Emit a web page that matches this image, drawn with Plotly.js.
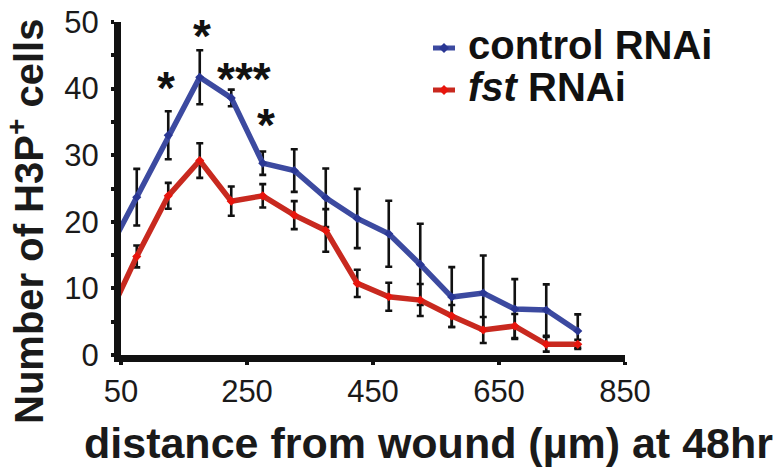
<!DOCTYPE html>
<html>
<head>
<meta charset="utf-8">
<script src="https://cdn.plot.ly/plotly-3.0.1.min.js"></script>
<style>html,body{margin:0;padding:0;background:#fff;}#chart{width:783px;height:468px;}</style>
</head>
<body>
<div id="chart"></div>
<script>
// ---- data ----
const distance    = [25, 75, 125, 175, 225, 275, 325, 375, 425, 475, 525, 575, 625, 675, 725, 775];
const controlMean = [14.7, 23.7, 33.0, 41.7, 38.6, 28.8, 27.7, 23.6, 20.5, 18.2, 13.6, 8.7, 9.3, 6.9, 6.75, 3.6];
const controlErr  = [4.2, 4.25, 3.6, 4.05, 1.25, 1.75, 3.2, 4.4, 4.45, 4.95, 6.1, 4.5, 5.65, 4.5, 3.85, 2.5];
const fstMean     = [4.7, 14.8, 23.9, 29.2, 23.1, 23.9, 21.0, 18.7, 10.75, 8.75, 8.25, 5.85, 3.75, 4.35, 1.6, 1.6];
const fstErr      = [1.5, 1.65, 1.95, 2.6, 2.2, 1.75, 2.1, 3.2, 2.05, 2.1, 2.4, 1.65, 1.95, 1.8, 1.1, 0.7];
const xTickVals   = [50, 250, 450, 650, 850];
const yTickVals   = [0, 10, 20, 30, 40, 50];
const sigX        = [122, 179, 246, 280];
const sigY        = [40.1, 47.9, 41.5, 34.6];
const sigText     = ['*', '*', '***', '*'];
const seriesNames = ['control RNAi', '<i>fst</i> RNAi'];
const xTitle = 'distance from wound (µm) at 48hr';
const yTitle = 'Number of H3P<sup>+</sup> cells';

const FONT = 'Liberation Sans, Arial, sans-serif';
const BLUE = '#3c4aa0', BLUE_M = '#2a3794';
const RED = '#c8291f', RED_M = '#e8150d';

const errStyle = {type: 'data', visible: true, color: '#111111', thickness: 2.6, width: 3.5};

const traces = [
  {x: distance, y: controlMean, name: seriesNames[0], type: 'scatter', mode: 'lines+markers',
   line: {color: BLUE, width: 5.5}, marker: {symbol: 'diamond', size: 7, color: BLUE_M},
   error_y: Object.assign({array: controlErr}, errStyle), showlegend: false},
  {x: distance, y: fstMean, name: seriesNames[1], type: 'scatter', mode: 'lines+markers',
   line: {color: RED, width: 5.5}, marker: {symbol: 'diamond', size: 7, color: RED_M},
   error_y: Object.assign({array: fstErr}, errStyle), showlegend: false}
];

// pixel -> paper helpers for layout positioning
const L = 121, R = 158, T = 22, B = 113, W = 783, H = 468;
const pw = W - L - R, ph = H - T - B;
const px = v => (v - L) / pw;
const py = v => (H - B - v) / ph;

const annotations = [];
for (let i = 0; i < sigX.length; i++) {
  annotations.push({x: sigX[i], y: sigY[i], xref: 'x', yref: 'y', text: sigText[i], showarrow: false,
    xanchor: 'center', yanchor: 'middle', font: {family: FONT, size: 46, color: '#111', weight: 'bold'}});
}
annotations.push({xref: 'paper', yref: 'paper', x: px(428.5), y: py(443), text: xTitle, showarrow: false,
  xanchor: 'center', yanchor: 'middle', font: {family: FONT, size: 43, color: '#1a1a1a', weight: 'bold'}});
annotations.push({xref: 'paper', yref: 'paper', x: px(26), y: py(222), text: yTitle, showarrow: false, textangle: -90,
  xanchor: 'center', yanchor: 'middle', font: {family: FONT, size: 40, color: '#1a1a1a', weight: 'bold'}});
// legend
const legendY = [45, 87];
const legendColors = [[BLUE, BLUE_M], [RED, RED_M]];
const shapes = [];
for (let i = 0; i < 2; i++) {
  annotations.push({xref: 'paper', yref: 'paper', x: px(466), y: py(legendY[i]), text: seriesNames[i], showarrow: false,
    xanchor: 'left', yanchor: 'middle',
    font: {family: FONT, size: 40, color: '#111', weight: 'bold'}});
  const ly = py(legendY[i] + 3);
  shapes.push({type: 'line', xref: 'paper', yref: 'paper', x0: px(433), x1: px(455), y0: ly, y1: ly,
    line: {color: legendColors[i][0], width: 5}});
  shapes.push({type: 'path', xref: 'paper', yref: 'paper', xsizemode: 'pixel', ysizemode: 'pixel',
    xanchor: px(444), yanchor: ly, path: 'M0,5 L5,0 L0,-5 L-5,0 Z',
    fillcolor: legendColors[i][1], line: {width: 0}});
}

const layout = {
  width: W, height: H,
  margin: {l: L, r: R, t: T, b: B, pad: 0},
  paper_bgcolor: '#ffffff', plot_bgcolor: '#ffffff',
  showlegend: false,
  font: {family: FONT, color: '#1a1a1a'},
  xaxis: {range: [50, 850], tickvals: xTickVals, ticktext: xTickVals.map(String),
    showline: true, linecolor: '#111', linewidth: 7, ticks: 'outside', ticklen: 3, tickwidth: 4, tickcolor: '#111',
    showgrid: false, zeroline: false, tickfont: {family: FONT, size: 31, color: '#1a1a1a'}, ticklabelstandoff: 0},
  yaxis: {range: [0, 50], tickvals: yTickVals, ticktext: yTickVals.map(String),
    showline: true, linecolor: '#111', linewidth: 7, ticks: 'outside', ticklen: 3, tickwidth: 4, tickcolor: '#111',
    minor: {dtick: 5, tick0: 0, ticks: 'outside', ticklen: 3, tickwidth: 4, tickcolor: '#111', showgrid: false},
    showgrid: false, zeroline: false, tickfont: {family: FONT, size: 31, color: '#1a1a1a'}, ticklabelstandoff: 6},
  annotations: annotations,
  shapes: shapes
};

Plotly.newPlot('chart', traces, layout, {displayModeBar: false, staticPlot: true});
</script>
</body>
</html>
